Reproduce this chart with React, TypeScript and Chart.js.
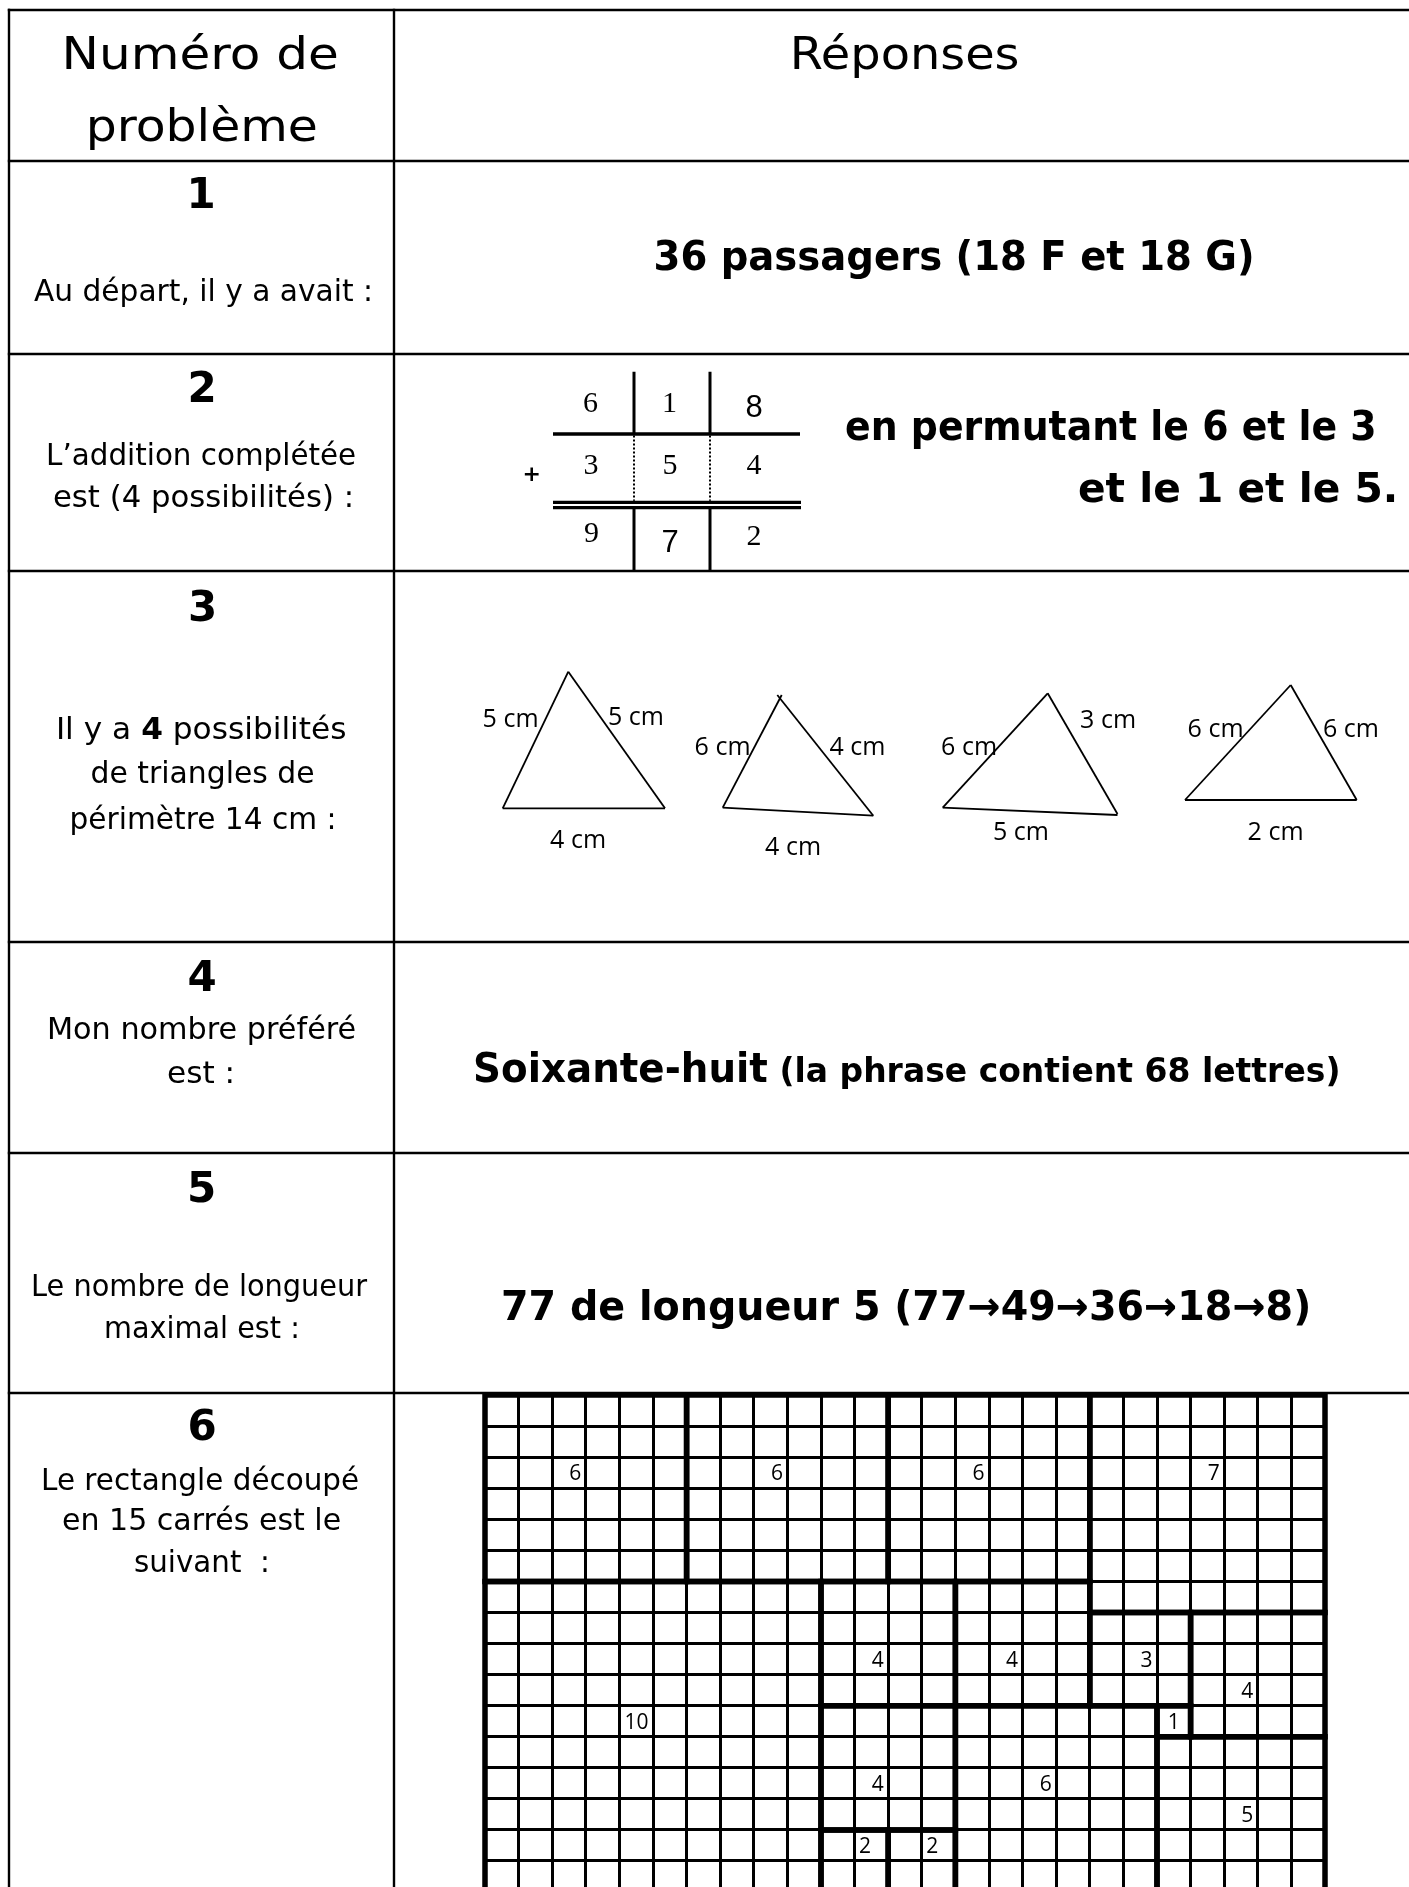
import React, { useEffect, useRef } from "react";
import { Chart, registerables } from "chart.js";

Chart.register(...registerables);

// ---------------- DATA ----------------
const headerLeftLines = ["Numéro de", "problème"];
const headerRightText = "Réponses";
const problemNumbers = ["1", "2", "3", "4", "5", "6"];
const questionTexts = [
  ["Au départ, il y a avait :"],
  ["L’addition complétée", "est (4 possibilités) :"],
  ["Il y a **4** possibilités", "de triangles de", "périmètre 14 cm :"],
  ["Mon nombre préféré", "est :"],
  ["Le nombre de longueur", "maximal est :"],
  ["Le rectangle découpé", "en 15 carrés est le", "suivant  :"],
];
const answer1Text = "36 passagers (18 F et 18 G)";
const answer2Lines = ["en permutant le 6 et le 3", "et le 1 et le 5."];
const answer4Main = "Soixante-huit";
const answer4Note = " (la phrase contient 68 lettres)";
const answer5Text = "77 de longueur 5 (77→49→36→18→8)";

// column addition 618 + 354 = 972
const additionDigits = [
  ["6", "1", "8"],
  ["3", "5", "4"],
  ["9", "7", "2"],
];
const additionSansCells = ["0-2", "2-1"]; // the 8 and the 7 are in a sans face
const additionSign = "+";

// triangle sides [x1, y1, x2, y2], page pixels
const triangle1Sides = [
  [502.7, 808.3, 568.3, 671.7],
  [568.3, 671.7, 665.0, 808.3],
  [502.7, 808.3, 665.0, 808.3],
];
const triangle2Sides = [
  [722.7, 807.7, 781.7, 695.0],
  [777.3, 695.0, 873.3, 815.7],
  [722.7, 807.7, 873.3, 815.7],
];
const triangle3Sides = [
  [942.7, 807.7, 1047.7, 693.3],
  [1047.7, 693.3, 1117.5, 814.0],
  [942.7, 807.7, 1117.5, 815.0],
];
const triangle4Sides = [
  [1185.0, 800.0, 1290.7, 685.0],
  [1290.7, 685.0, 1356.7, 800.0],
  [1185.0, 800.0, 1356.7, 800.0],
];
const triangleSides = [triangle1Sides, triangle2Sides, triangle3Sides, triangle4Sides];
const triangleLabels = [
  ["5 cm", "5 cm", "4 cm"],
  ["6 cm", "4 cm", "4 cm"],
  ["6 cm", "3 cm", "5 cm"],
  ["6 cm", "6 cm", "2 cm"],
];

// the 25 x 16 rectangle cut into 15 squares (grid units)
const gridCols = 25;
const gridRows = 16;
const squareCols = [0, 6, 12, 18, 0, 10, 14, 18, 21, 20, 10, 14, 10, 12, 20];
const squareRows = [0, 0, 0, 0, 6, 6, 6, 7, 7, 10, 10, 10, 14, 14, 11];
const squareSizes = [6, 6, 6, 7, 10, 4, 4, 3, 4, 1, 4, 6, 2, 2, 5];
const labelCols = [2, 8, 14, 21, 4, 11, 15, 19, 22, 20, 11, 16, 11, 13, 22];
const labelRows = [2, 2, 2, 2, 10, 8, 8, 8, 9, 10, 12, 12, 14, 14, 13];
const labelAligns = ["r", "r", "r", "r", "r", "r", "r", "r", "r", "c", "r", "r", "l", "l", "r"];

// ---------------- LAYOUT / STYLE ----------------
const PAGE_W = 1409;
const PAGE_H = 1887;
const SANS = '"DejaVu Sans"';
const TABLE = {
  rowLines: [10, 161, 354, 571, 942, 1153, 1393],
  leftX: 9,
  dividerX: 394,
  lineWidth: 2.4,
};
const LEFT_CX = 202;
const HEADER = { size: 45, leftBaselines: [69, 141], leftWidths: [271, 226], leftCx: [201.5, 203], rightCx: 906, rightBaseline: 69, rightWidth: 224 };
const NUMBER = { size: 42, baselines: [208, 402, 621, 991, 1202, 1440] };
const QUESTION = {
  size: 29.5,
  baselines: [[301], [465, 507], [739, 783, 829], [1039, 1083], [1296, 1338], [1490, 1530, 1572]],
  widths: [[336], [307, 297], [287, 222, 262], [306, 64], [335, 191], [315, 277, 132]],
  cx: [[202], [201.5, 202.5], [201.5, 202.5, 202.5], [202, 200], [200.5, 201.5], [200.5, 201.5, 201]],
};
const ANSWER = {
  size: 40,
  noteSize: 34,
  a1: { cx: 953.5, base: 270, w: 596 },
  a2: [
    { cx: 1110, base: 440, w: 528 },
    { cx: 1237, base: 501.5, w: 316 },
  ],
  a4: { cx: 906.5, base: 1082, w: 863 },
  a5: { cx: 905.5, base: 1320, w: 805 },
};
const ADD = {
  colX: [591, 670, 754],
  baselines: [
    [412, 412, 417],
    [473.5, 473.5, 473.5],
    [542, 552, 545],
  ],
  serif: '30px "Liberation Serif"',
  sans: '31px "Liberation Sans"',
  sign: { x: 532, base: 480.5, font: 'bold 22px "DejaVu Sans"' },
  vLines: [634, 710],
  vTop: 371.7,
  ruleY: 434,
  doubleY: [502.3, 507.7],
  vBottom: 572,
  ruleLeft: 553,
  ruleRight: 800,
};
const TRI_LABEL = {
  font: '25px "Open Sans"',
  lineWidth: 1.8,
  pos: [
    [[510.5, 726.7], [635.8, 725], [577.5, 848.3]],
    [[722.5, 755], [856.8, 755], [792.5, 855]],
    [[969, 755], [1108, 727.7], [1020.8, 840]],
    [[1215.5, 736.7], [1350.8, 736.7], [1275.5, 840]],
  ],
};
const GRID = { left: 485, top: 1395, cellW: 33.6, cellH: 31.06, pad: 6, thin: 3, thick: 5.5, labelFont: '21px "Open Sans"' };

// ---------------- helpers ----------------
type Run = { text: string; font: string };

function parseRuns(str: string, size: number): Run[] {
  const parts = str.split(/\*\*(.+?)\*\*/);
  return parts
    .map((t, i) => ({ text: t, font: `${i % 2 === 1 ? "bold " : ""}${size}px ${SANS}` }))
    .filter((r) => r.text.length > 0);
}

function drawRuns(ctx: CanvasRenderingContext2D, runs: Run[], cx: number, baseline: number, targetInk?: number) {
  ctx.textAlign = "left";
  ctx.textBaseline = "alphabetic";
  const widths: number[] = [];
  let total = 0;
  let inkStart = 0;
  let inkEnd = 0;
  runs.forEach((r, i) => {
    ctx.font = r.font;
    const m = ctx.measureText(r.text);
    if (i === 0) inkStart = -m.actualBoundingBoxLeft;
    if (i === runs.length - 1) inkEnd = total + m.actualBoundingBoxRight;
    widths.push(m.width);
    total += m.width;
  });
  const inkW = inkEnd - inkStart;
  const sx = targetInk ? targetInk / inkW : 1;
  ctx.save();
  ctx.translate(cx, baseline);
  ctx.scale(sx, 1);
  let x = -(inkStart + inkW / 2);
  runs.forEach((r, i) => {
    ctx.font = r.font;
    ctx.fillText(r.text, x, 0);
    x += widths[i];
  });
  ctx.restore();
}

// ---------------- page chart (table, texts, addition, triangles) ----------------
const pagePlugin = {
  id: "pageTable",
  beforeDatasetsDraw(chart: any) {
    const { ctx } = chart;
    const xs = chart.scales.x;
    const ys = chart.scales.y;
    ctx.save();
    ctx.strokeStyle = "#000";
    ctx.lineWidth = TABLE.lineWidth;
    TABLE.rowLines.forEach((ly) => {
      ctx.beginPath();
      ctx.moveTo(xs.getPixelForValue(TABLE.leftX - 1.2), ys.getPixelForValue(ly));
      ctx.lineTo(xs.getPixelForValue(PAGE_W), ys.getPixelForValue(ly));
      ctx.stroke();
    });
    [TABLE.leftX, TABLE.dividerX].forEach((lx) => {
      ctx.beginPath();
      ctx.moveTo(xs.getPixelForValue(lx), ys.getPixelForValue(TABLE.rowLines[0] - 1.2));
      ctx.lineTo(xs.getPixelForValue(lx), ys.getPixelForValue(PAGE_H));
      ctx.stroke();
    });
    ctx.restore();
  },
  afterDatasetsDraw(chart: any) {
    const { ctx } = chart;
    const xs = chart.scales.x;
    const ys = chart.scales.y;
    const X = (v: number) => xs.getPixelForValue(v);
    const Y = (v: number) => ys.getPixelForValue(v);
    ctx.save();
    ctx.fillStyle = "#000";

    // header
    headerLeftLines.forEach((t, i) =>
      drawRuns(ctx, [{ text: t, font: `${HEADER.size}px ${SANS}` }], X(HEADER.leftCx[i]), Y(HEADER.leftBaselines[i]), HEADER.leftWidths[i])
    );
    drawRuns(ctx, [{ text: headerRightText, font: `${HEADER.size}px ${SANS}` }], X(HEADER.rightCx), Y(HEADER.rightBaseline), HEADER.rightWidth);

    // problem numbers
    problemNumbers.forEach((n, i) =>
      drawRuns(ctx, [{ text: n, font: `bold ${NUMBER.size}px ${SANS}` }], X(LEFT_CX), Y(NUMBER.baselines[i]))
    );

    // questions
    questionTexts.forEach((lines, i) =>
      lines.forEach((line, j) =>
        drawRuns(ctx, parseRuns(line, QUESTION.size), X(QUESTION.cx[i][j]), Y(QUESTION.baselines[i][j]), QUESTION.widths[i][j])
      )
    );

    // answers
    const bold = `bold ${ANSWER.size}px ${SANS}`;
    drawRuns(ctx, [{ text: answer1Text, font: bold }], X(ANSWER.a1.cx), Y(ANSWER.a1.base), ANSWER.a1.w);
    answer2Lines.forEach((t, i) =>
      drawRuns(ctx, [{ text: t, font: bold }], X(ANSWER.a2[i].cx), Y(ANSWER.a2[i].base), ANSWER.a2[i].w)
    );
    drawRuns(
      ctx,
      [
        { text: answer4Main, font: bold },
        { text: answer4Note, font: `bold ${ANSWER.noteSize}px ${SANS}` },
      ],
      X(ANSWER.a4.cx),
      Y(ANSWER.a4.base),
      ANSWER.a4.w
    );
    drawRuns(ctx, [{ text: answer5Text, font: bold }], X(ANSWER.a5.cx), Y(ANSWER.a5.base), ANSWER.a5.w);

    // addition digits
    additionDigits.forEach((row, r) =>
      row.forEach((d, c) => {
        const font = additionSansCells.includes(`${r}-${c}`) ? ADD.sans : ADD.serif;
        drawRuns(ctx, [{ text: d, font }], X(ADD.colX[c]), Y(ADD.baselines[r][c]));
      })
    );
    drawRuns(ctx, [{ text: additionSign, font: ADD.sign.font }], X(ADD.sign.x), Y(ADD.sign.base));

    // triangle labels
    triangleLabels.forEach((labels, t) =>
      labels.forEach((lab, k) => {
        const [lx, ly] = TRI_LABEL.pos[t][k];
        drawRuns(ctx, [{ text: lab, font: TRI_LABEL.font }], X(lx), Y(ly));
      })
    );
    ctx.restore();
  },
};

function segment(x1: number, y1: number, x2: number, y2: number, width: number, dash: number[] = []) {
  return {
    data: [
      { x: x1, y: y1 },
      { x: x2, y: y2 },
    ],
    showLine: true,
    borderColor: "#000",
    borderWidth: width,
    borderDash: dash,
    borderCapStyle: "butt",
    pointRadius: 0,
    fill: false,
    tension: 0,
    clip: false,
  };
}

function PageChart() {
  const ref = useRef<HTMLCanvasElement>(null);
  useEffect(() => {
    if (!ref.current) return;
    const datasets: any[] = [];
    triangleSides.forEach((sides) =>
      sides.forEach(([a, b, c, d]) => datasets.push(segment(a, b, c, d, TRI_LABEL.lineWidth)))
    );
    ADD.vLines.forEach((vx) => {
      datasets.push(segment(vx, ADD.vTop, vx, ADD.ruleY, 3));
      datasets.push(segment(vx, ADD.ruleY + 1.5, vx, ADD.doubleY[0] - 1.5, 2, [2, 2]));
      datasets.push(segment(vx, ADD.doubleY[1], vx, ADD.vBottom, 3));
    });
    datasets.push(segment(ADD.ruleLeft, ADD.ruleY, ADD.ruleRight, ADD.ruleY, 3.3));
    ADD.doubleY.forEach((dy) => datasets.push(segment(ADD.ruleLeft, dy, ADD.ruleRight + 1, dy, 3.2)));

    const chart = new Chart(ref.current, {
      type: "scatter",
      data: { datasets },
      options: {
        animation: false,
        responsive: false,
        events: [],
        layout: { padding: 0, autoPadding: false },
        plugins: { legend: { display: false }, tooltip: { enabled: false } },
        scales: {
          x: { type: "linear", min: 0, max: PAGE_W, display: false },
          y: { type: "linear", min: 0, max: PAGE_H, reverse: true, display: false },
        },
      } as any,
      plugins: [pagePlugin],
    });
    (document as any).fonts?.ready?.then(() => chart.draw());
    return () => chart.destroy();
  }, []);
  return (
    <canvas
      ref={ref}
      width={PAGE_W}
      height={PAGE_H}
      style={{ position: "absolute", left: 0, top: 0, width: PAGE_W, height: PAGE_H }}
    />
  );
}

// ---------------- grid chart (problem 6) ----------------
const gridLabelPlugin = {
  id: "gridLabels",
  afterDatasetsDraw(chart: any) {
    const { ctx } = chart;
    const xs = chart.scales.x;
    const ys = chart.scales.y;
    ctx.save();
    ctx.fillStyle = "#000";
    ctx.font = GRID.labelFont;
    ctx.textBaseline = "alphabetic";
    squareSizes.forEach((s, i) => {
      const left = xs.getPixelForValue(labelCols[i]);
      const right = xs.getPixelForValue(labelCols[i] + 1);
      const yc = (ys.getPixelForValue(labelRows[i]) + ys.getPixelForValue(labelRows[i] + 1)) / 2;
      const txt = String(s);
      const a = labelAligns[i];
      let x = (left + right) / 2;
      if (a === "r") {
        ctx.textAlign = "right";
        x = right - 4.5;
      } else if (a === "l") {
        ctx.textAlign = "left";
        x = left + 4.5;
      } else {
        ctx.textAlign = "center";
      }
      ctx.fillText(txt, x, yc + 7.5);
    });
    ctx.restore();
  },
};

function GridChart() {
  const ref = useRef<HTMLCanvasElement>(null);
  const w = Math.round(gridCols * GRID.cellW + 2 * GRID.pad);
  const h = Math.round(gridRows * GRID.cellH + 2 * GRID.pad);
  useEffect(() => {
    if (!ref.current) return;
    const datasets = squareSizes.map((s, i) => {
      const c = squareCols[i];
      const r = squareRows[i];
      return {
        data: [
          { x: c, y: r },
          { x: c + s, y: r },
          { x: c + s, y: r + s },
          { x: c, y: r + s },
          { x: c, y: r },
        ],
        showLine: true,
        borderColor: "#000",
        borderWidth: GRID.thick,
        borderJoinStyle: "miter",
        borderCapStyle: "square",
        pointRadius: 0,
        fill: false,
        tension: 0,
        clip: false,
      };
    });
    const axis = (max: number, reverse: boolean) => ({
      type: "linear",
      min: 0,
      max,
      reverse,
      ticks: { display: false, stepSize: 1, autoSkip: false, maxTicksLimit: 1000 },
      grid: { color: "#000", lineWidth: GRID.thin, drawTicks: false },
      border: { display: false },
    });
    const chart = new Chart(ref.current, {
      type: "scatter",
      data: { datasets },
      options: {
        animation: false,
        responsive: false,
        events: [],
        layout: { padding: GRID.pad, autoPadding: false },
        plugins: { legend: { display: false }, tooltip: { enabled: false } },
        scales: { x: axis(gridCols, false), y: axis(gridRows, true) },
      } as any,
      plugins: [gridLabelPlugin],
    });
    (document as any).fonts?.ready?.then(() => chart.draw());
    return () => chart.destroy();
  }, []);
  return (
    <canvas
      ref={ref}
      width={w}
      height={h}
      style={{ position: "absolute", left: GRID.left - GRID.pad, top: GRID.top - GRID.pad, width: w, height: h }}
    />
  );
}

export default function App() {
  return (
    <div
      style={{
        position: "absolute",
        left: 0,
        top: 0,
        width: PAGE_W,
        height: PAGE_H,
        overflow: "hidden",
        background: "#fff",
      }}
    >
      <PageChart />
      <GridChart />
    </div>
  );
}
